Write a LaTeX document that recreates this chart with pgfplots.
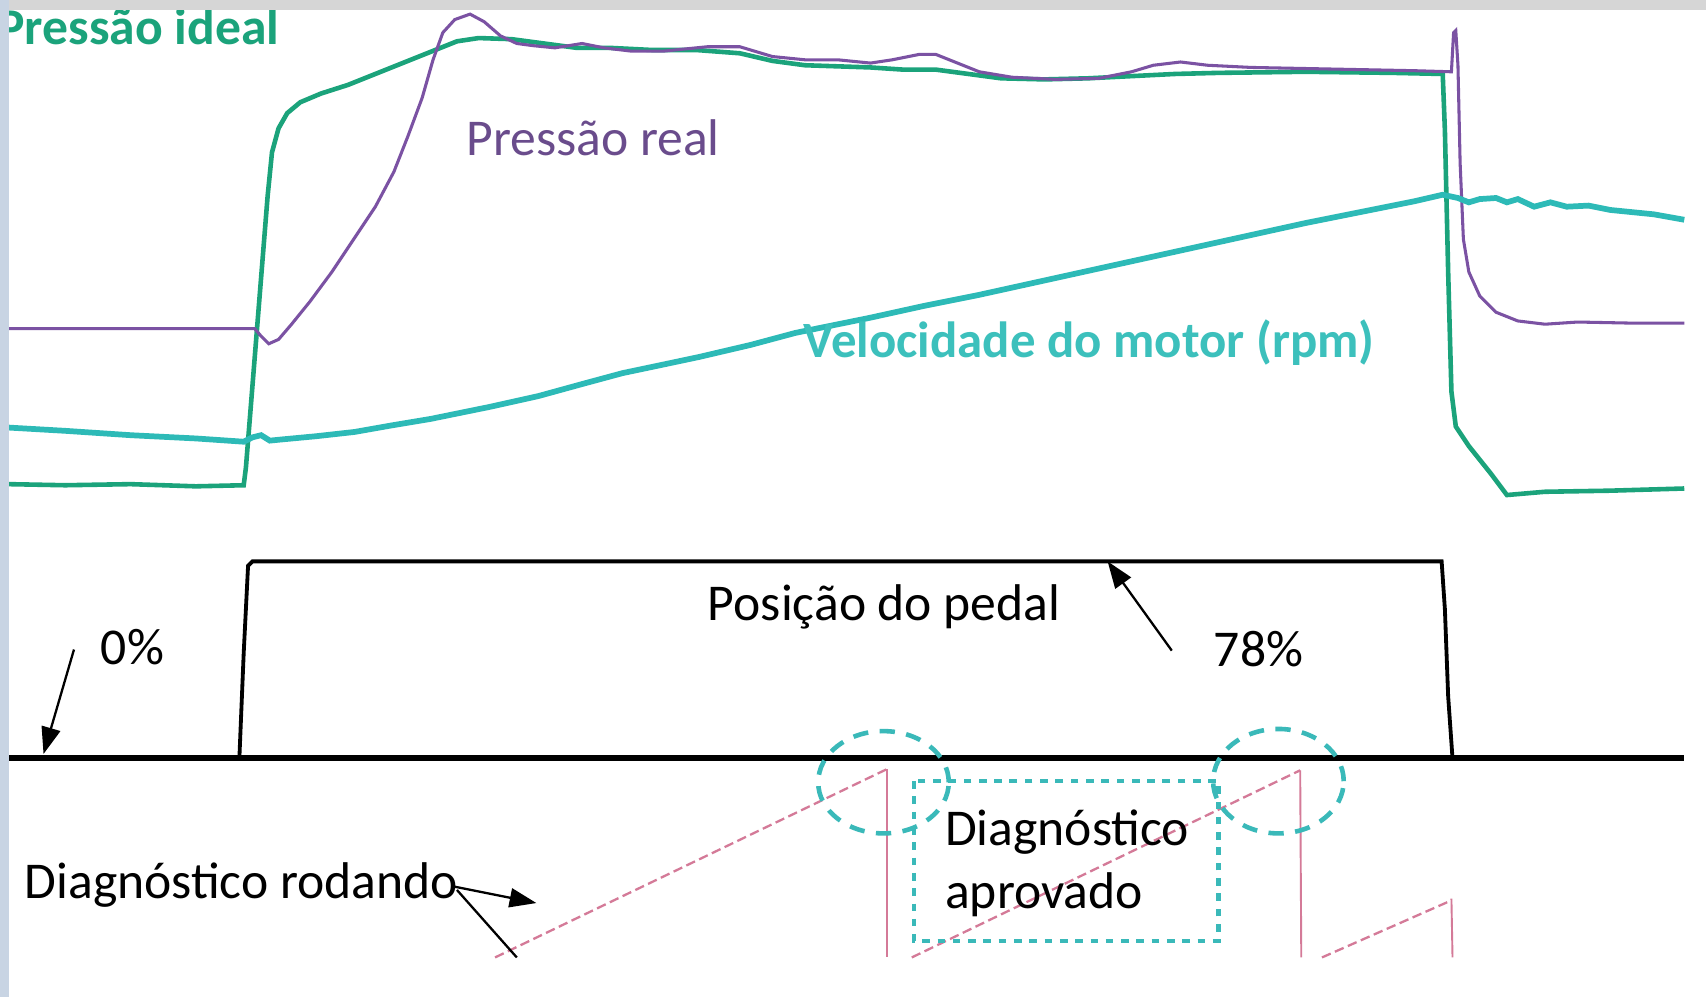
\documentclass[border=0pt]{standalone}
\usepackage{pgfplots}
\pgfplotsset{compat=1.18}
\usepackage{fontspec}
\setmainfont{Carlito}
\usetikzlibrary{arrows.meta}
\definecolor{ideal}{HTML}{1BA37B}
\definecolor{real}{HTML}{7B52A3}
\definecolor{realtxt}{HTML}{6A4C8C}
\definecolor{vel}{HTML}{2DBAB7}
\definecolor{veltxt}{HTML}{3CC0BC}
\definecolor{ramp}{HTML}{D47A98}
\definecolor{circ}{HTML}{3AB9B9}
\definecolor{topbar}{HTML}{D6D6D6}
\definecolor{sidebar}{HTML}{C8D4E3}
\tikzset{lab/.style={font=\fontsize{13.5}{16}\selectfont, inner sep=0pt, anchor=base west}}
\begin{document}
\begin{tikzpicture}
\fill[white] (0,0) rectangle (15.68cm,9.16cm);
\begin{axis}[width=15.68cm,height=9.16cm,scale only axis,
  xmin=0,xmax=1568,ymin=0,ymax=916,y dir=reverse,axis lines=none]
% pedal position
\addplot[black, line width=1.5pt] coordinates {(8,697) (1548,697)};
\addplot[black, line width=1.0pt] coordinates {(220,697) (224,600) (228,520) (232,516) (1325,516) (1328,560) (1331,640) (1335,697)};
% pressao ideal
\addplot[ideal, line width=1.2pt] coordinates {
(8,445) (60,446) (120,445) (180,447) (224,446) (226,430) (230,380) (234,330) (238,280) (242,230) (246,180) (250,140) (256,118) (264,104) (276,94) (295,86) (320,78) (350,66) (380,54) (405,44) (420,38) (440,35) (470,36) (500,40) (530,44) (560,44) (600,46) (640,46) (680,49) (710,56) (740,60) (770,61) (800,62) (830,64) (860,64) (890,68) (920,72) (960,73) (1000,72) (1040,70) (1080,68) (1120,67) (1200,66) (1280,67) (1326,68) (1328,120) (1331,250) (1334,360) (1338,392) (1350,410) (1370,435) (1385,455) (1420,452) (1480,451) (1548,449)};
% pressao real
\addplot[real, line width=0.8pt] coordinates {
(8,302) (120,302) (234,302) (240,309) (247,316) (256,312) (268,298) (285,277) (305,250) (325,220) (345,190) (362,158) (375,125) (388,90) (398,55) (407,30) (418,18) (432,13) (445,20) (460,33) (475,40) (490,42) (510,44) (535,40) (555,44) (580,47) (610,47) (650,43) (680,43) (710,52) (740,55) (770,55) (800,58) (820,55) (845,50) (860,50) (880,58) (900,66) (930,71) (970,73) (1010,72) (1040,66) (1060,60) (1085,57) (1110,60) (1150,62) (1200,63) (1250,64) (1300,65) (1334,66) (1336,30) (1338,28) (1340,60) (1342,150) (1345,220) (1350,250) (1360,272) (1375,287) (1395,295) (1420,298) (1450,296) (1500,297) (1548,297)};
% velocidade
\addplot[vel, line width=1.5pt] coordinates {
(8,393) (60,396) (120,400) (180,403) (224,406) (232,402) (240,400) (248,405) (258,404) (290,401) (326,397) (360,391) (396,385) (450,374) (495,364) (535,353) (572,343) (610,335) (643,328) (690,317) (731,306) (800,292) (850,281) (900,271) (950,260) (1000,249) (1050,238) (1100,227) (1150,216) (1200,205) (1250,195) (1300,185) (1326,179) (1340,182) (1350,186) (1360,183) (1375,182) (1385,186) (1395,183) (1410,190) (1425,186) (1440,190) (1460,189) (1480,193) (1520,197) (1548,202)};
% diagnostic ramps
\addplot[ramp, line width=0.6pt, dash pattern=on 2.5pt off 1.2pt] coordinates {(455,880) (815,707)};
\addplot[ramp, line width=0.5pt] coordinates {(815,707) (815,880)};
\addplot[ramp, line width=0.6pt, dash pattern=on 2.5pt off 1.2pt] coordinates {(838,880) (1195,708)};
\addplot[ramp, line width=0.5pt] coordinates {(1195,708) (1196,880)};
\addplot[ramp, line width=0.6pt, dash pattern=on 2.5pt off 1.2pt] coordinates {(1215,880) (1333,828)};
\addplot[ramp, line width=0.5pt] coordinates {(1334,826) (1335,880)};
% dashed circles and box
\draw[circ, line width=1.2pt, dash pattern=on 4pt off 3pt] (axis cs:812,719) ellipse [x radius=0.6cm, y radius=0.47cm];
\draw[circ, line width=1.2pt, dash pattern=on 4pt off 3pt] (axis cs:1175,718) ellipse [x radius=0.6cm, y radius=0.48cm];
\draw[circ, line width=1.2pt, dash pattern=on 2pt off 2pt] (axis cs:840,718) rectangle (axis cs:1120,865);
% arrows
\draw[black, line width=0.6pt, -{Triangle[length=7pt,width=5pt]}] (axis cs:68,597) -- (axis cs:40,693);
\draw[black, line width=0.6pt, -{Triangle[length=7pt,width=5pt]}] (axis cs:1077,598) -- (axis cs:1018,516);
\draw[black, line width=0.6pt, -{Triangle[length=7pt,width=5pt]}] (axis cs:418,815) -- (axis cs:493,830);
\draw[black, line width=0.6pt] (axis cs:420,818) -- (axis cs:475,880);
% labels
\node[lab, ideal, font=\fontsize{13.5}{16}\selectfont\bfseries] at (axis cs:-3,41) {Pressão ideal};
\node[lab, realtxt] at (axis cs:428,143) {Pressão real};
\node[lab, veltxt, font=\fontsize{13.3}{16}\selectfont\bfseries] at (axis cs:738,329) {Velocidade do motor (rpm)};
\node[lab] at (axis cs:650,570) {Posição do pedal};
\node[lab] at (axis cs:92,611) {0\%};
\node[lab] at (axis cs:1115,613) {78\%};
\node[lab] at (axis cs:22,826) {Diagnóstico rodando};
\node[lab] at (axis cs:868,777) {Diagnóstico};
\node[lab] at (axis cs:868,835) {aprovado};
% background strips (frame of the screenshot)
\fill[topbar] (axis cs:0,0) rectangle (axis cs:1568,9);
\fill[sidebar] (axis cs:0,0) rectangle (axis cs:8,916);
\end{axis}
\pgfresetboundingbox
\useasboundingbox (0,0) rectangle (15.68cm,9.16cm);
\end{tikzpicture}
\end{document}
